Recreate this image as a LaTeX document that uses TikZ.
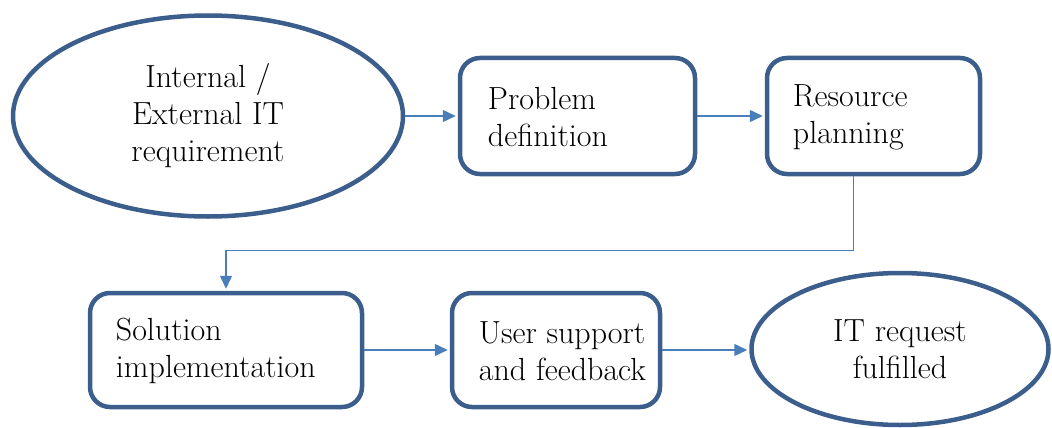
\documentclass[tikz,border=0pt]{standalone}
\usepackage{fontspec}
\usetikzlibrary{shapes.geometric,arrows.meta}
\definecolor{edgeblue}{HTML}{3B5E8C}
\definecolor{connblue}{HTML}{4A7EBB}
\begin{document}
\begin{tikzpicture}[x=1pt,y=-1pt,
  txt/.style={font=\rmfamily\fontsize{32}{37}\selectfont\addfontfeatures{FakeBold=0.4}},
  oval/.style={ellipse, draw=edgeblue, line width=4.5pt, fill=white, align=center, inner sep=0pt, txt},
  stepbox/.style={rectangle, rounded corners=20pt, draw=edgeblue, line width=4.5pt, fill=white, inner sep=0pt},
  boxtext/.style={anchor=west, align=left, inner sep=0pt, txt},
  conn/.style={draw=connblue, line width=1.5pt, -{Triangle[length=13pt,width=12pt]}, shorten >=2pt}
]
\useasboundingbox (0,0) rectangle (1052,428);

\node[oval, minimum width=390, minimum height=201] (req) at (208,116) {Internal /\\External IT\\requirement};

\node[stepbox, minimum width=235, minimum height=116] (pd) at (577.5,116) {};
\node[boxtext] (pdt) at ([xshift=30pt,yshift=-1pt]pd.west) {Problem\\definition};

\node[stepbox, minimum width=213, minimum height=116] (rp) at (873.5,116) {};
\node[boxtext] (rpt) at ([xshift=28pt,yshift=-1pt]rp.west) {Resource\\planning};

\node[stepbox, minimum width=272, minimum height=114] (si) at (226,350) {};
\node[boxtext] (sit) at ([xshift=28pt,yshift=-1pt]si.west) {Solution\\implementation};

\node[stepbox, minimum width=208, minimum height=114] (us) at (556,350) {};
\node[boxtext] (ust) at ([xshift=29pt,yshift=-1pt]us.west) {User support\\and feedback};

\node[oval, minimum width=297, minimum height=152] (done) at (900,349) {IT request\\fulfilled};

\draw[conn] (req.east) -- (pd.west);
\draw[conn] (pd.east) -- (rp.west);
\draw[conn] ([xshift=-20pt]rp.south) -- ++(0,74) -| (si.north);
\draw[conn] (si.east) -- (us.west);
\draw[conn] (us.east) -- (done.west |- us.east);
\end{tikzpicture}
\end{document}
